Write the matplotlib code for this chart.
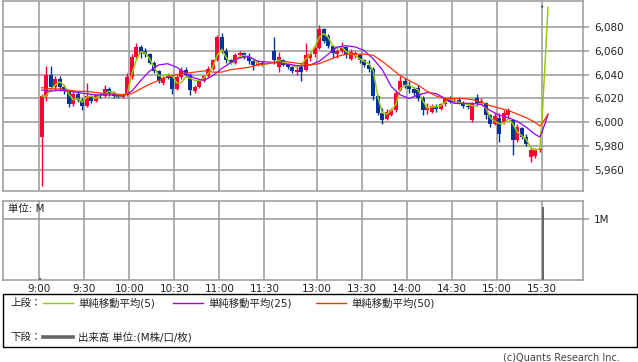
import matplotlib
matplotlib.use("Agg")
import matplotlib.pyplot as plt
from matplotlib.patches import Rectangle
from matplotlib.lines import Line2D

plt.rcParams['font.family'] = ['DejaVu Sans', 'Noto Sans CJK JP']

W, H, DPI = 638, 362, 100
###############################################################################
# Data: 3-minute bars (yen)
###############################################################################
am_open = [5988, 6022, 6040, 6030, 6036, 6030, 6026, 6015, 6024, 6019,
           6014, 6022, 6018, 6023, 6022, 6028, 6024, 6022, 6021, 6023,
           6038, 6055, 6063, 6060, 6057, 6050, 6043, 6033, 6039, 6038,
           6028, 6038, 6044, 6040, 6026, 6030, 6035, 6039, 6045, 6052,
           6071, 6060, 6052, 6050, 6056, 6058, 6055, 6051, 6048, 6050]
am_high = [6024, 6047, 6047, 6039, 6039, 6031, 6027, 6026, 6026, 6020,
           6033, 6023, 6024, 6025, 6031, 6030, 6026, 6024, 6025, 6041,
           6057, 6066, 6065, 6062, 6058, 6051, 6044, 6039, 6041, 6039,
           6040, 6046, 6046, 6041, 6031, 6036, 6040, 6047, 6053, 6073,
           6075, 6062, 6053, 6058, 6060, 6059, 6058, 6052, 6052, 6051]
am_low = [5947, 6018, 6027, 6027, 6026, 6024, 6013, 6014, 6017, 6010,
          6013, 6016, 6017, 6020, 6021, 6022, 6020, 6020, 6020, 6022,
          6036, 6053, 6054, 6055, 6049, 6041, 6033, 6031, 6036, 6024,
          6027, 6036, 6038, 6023, 6025, 6029, 6034, 6038, 6044, 6051,
          6058, 6050, 6049, 6049, 6054, 6053, 6049, 6044, 6047, 6047]
am_close = [6022, 6040, 6030, 6036, 6030, 6026, 6015, 6024, 6019, 6014,
            6022, 6018, 6023, 6022, 6028, 6024, 6022, 6021, 6023, 6038,
            6055, 6063, 6058, 6057, 6050, 6043, 6035, 6037, 6037, 6028,
            6038, 6044, 6040, 6027, 6030, 6035, 6039, 6045, 6052, 6071,
            6060, 6052, 6050, 6056, 6058, 6055, 6051, 6048, 6050, 6049]

pm_open = [6060, 6046, 6052, 6049, 6046, 6042, 6046, 6044, 6054, 6057,
           6062, 6078, 6072, 6064, 6057, 6060, 6063, 6053, 6056, 6056,
           6052, 6048, 6045, 6022, 6008, 6003, 6006, 6010, 6027, 6035,
           6031, 6028, 6029, 6020, 6010, 6009, 6014, 6011, 6015, 6020,
           6017, 6019, 6016, 6014, 6002, 6020, 6016, 6016, 6006, 5999,
           6004, 6000, 6006, 6002, 5985, 5995, 5988, 5971, 5972, 5977]
pm_high = [6071, 6059, 6053, 6050, 6047, 6046, 6048, 6066, 6059, 6064,
           6081, 6079, 6074, 6065, 6061, 6067, 6064, 6061, 6060, 6057,
           6053, 6052, 6046, 6023, 6012, 6011, 6012, 6027, 6039, 6037,
           6035, 6030, 6031, 6022, 6016, 6015, 6015, 6016, 6021, 6022,
           6020, 6020, 6018, 6016, 6017, 6024, 6020, 6017, 6007, 6008,
           6008, 6010, 6012, 6003, 5999, 5996, 5990, 5979, 5979, 5979]
pm_low = [6049, 6042, 6047, 6045, 6041, 6040, 6035, 6043, 6051, 6055,
          6061, 6066, 6062, 6054, 6054, 6058, 6054, 6052, 6054, 6050,
          6046, 6042, 6019, 6006, 5999, 6002, 6005, 6009, 6026, 6029,
          6025, 6022, 6018, 6006, 6007, 6008, 6009, 6010, 6014, 6016,
          6016, 6015, 6012, 6011, 6000, 6014, 6015, 6003, 5996, 5998,
          5984, 5999, 6003, 5973, 5984, 5986, 5980, 5967, 5970, 5975]
pm_close = [6052, 6055, 6048, 6046, 6043, 6044, 6042, 6056, 6057, 6062,
            6078, 6068, 6064, 6058, 6060, 6063, 6056, 6059, 6058, 6052,
            6048, 6045, 6022, 6008, 6002, 6009, 6010, 6025, 6035, 6031,
            6028, 6025, 6020, 6010, 6013, 6014, 6011, 6015, 6020, 6017,
            6019, 6016, 6014, 6013, 6015, 6016, 6018, 6006, 5999, 6005,
            5990, 6008, 6010, 5985, 5996, 5988, 5982, 5977, 5977, 5978]

# closing auction print at 15:30
close_bar = (6097, 6097, 6096, 6096)

# moving averages (read at bar centres)
ma5_am = [6022, 6022, 6028, 6031, 6034, 6031, 6024, 6019, 6020, 6017,
          6021, 6022, 6020, 6023, 6024, 6026, 6025, 6022, 6022, 6024,
          6040, 6052, 6059, 6058, 6053, 6046, 6039, 6039, 6040, 6039,
          6033, 6033, 6038, 6037, 6035, 6035, 6037, 6041, 6046, 6056,
          6061, 6054, 6049, 6052, 6055, 6056, 6055, 6053, 6049, 6048]
ma5_pm = [6050, 6052, 6050, 6049, 6048, 6046, 6048, 6053, 6057, 6063,
          6071, 6074, 6071, 6064, 6062, 6063, 6059, 6057, 6056, 6053,
          6051, 6049, 6043, 6022, 6008, 6007, 6010, 6015, 6028, 6031,
          6031, 6029, 6027, 6018, 6012, 6013, 6013, 6014, 6017, 6019,
          6018, 6017, 6016, 6015, 6014, 6014, 6016, 6012, 6004, 6001,
          5999, 5999, 6003, 5999, 5992, 5989, 5986, 5979, 5977, 5978]
ma5_tail = [6002, 6026, 6049, 6073, 6096]          # 15:30 .. 15:34

# every second bar centre
ma25_am = [6027, 6026, 6027, 6026, 6025, 6024, 6023, 6023, 6023, 6022,
           6026, 6035, 6043, 6048, 6049, 6046, 6041, 6037, 6035, 6039,
           6045, 6050, 6054, 6055, 6051]
ma25_pm = [6050, 6049, 6048, 6047, 6048, 6051, 6057, 6063, 6064, 6063,
           6060, 6053, 6044, 6030, 6023, 6020, 6023, 6025, 6024, 6020,
           6016, 6016, 6016, 6015, 6010, 6006, 6004, 6001, 5996, 5990]
ma25_tail = [5988, 5992, 5996, 5999, 6003, 6007]   # last bar, 15:30 .. 15:34

ma50_am = [6029, 6028, 6028, 6027, 6026, 6026, 6025, 6024, 6024, 6023,
           6024, 6028, 6032, 6035, 6038, 6040, 6041, 6042, 6043, 6042,
           6042, 6044, 6045, 6046, 6048]
ma50_pm = [6050, 6051, 6050, 6049, 6048, 6049, 6052, 6055, 6057, 6057,
           6057, 6056, 6051, 6045, 6039, 6035, 6031, 6026, 6022, 6020,
           6020, 6020, 6019, 6017, 6014, 6012, 6010, 6007, 6004, 6000]
ma50_tail = [5997, 5999, 6001, 6003, 6005, 6007]

vol_times = ["9:00", "15:30"]
vol_values = [0.03, 1.2]  # M

x_labels = ["9:00", "9:30", "10:00", "10:30", "11:00", "11:30",
            "13:00", "13:30", "14:00", "14:30", "15:00", "15:30"]
y_ticks = [5960, 5980, 6000, 6020, 6040, 6060, 6080]

###############################################################################
# Colors
###############################################################################
upColor = '#ff0033'
dnColor = '#003399'
gridColor = '#999999'
c5 = '#99cc00'
c25 = '#9900ff'
c50 = '#ff3300'
volColor = '#666666'


def tpos(s):
    # session time -> x position in minutes (lunch break compressed)
    h, m = [int(v) for v in s.split(':')]
    mins = h * 60 + m
    if mins <= 12 * 60:
        return mins - 540
    return 155 + mins - 750


am_t = [3 * i + 1.5 for i in range(len(am_open))]
pm_t = [155 + 3 * k + 1.5 for k in range(len(pm_open))]
bar_t = am_t + pm_t
opens = am_open + pm_open
highs = am_high + pm_high
lows = am_low + pm_low
closes = am_close + pm_close
tail_t = [tpos("15:%02d" % m) for m in range(30, 35)]

###############################################################################
# Figure
###############################################################################
fig = plt.figure(figsize=(W / DPI, H / DPI), dpi=DPI)
fig.patch.set_facecolor('white')


def px_axes(x0, y0, x1, y1):
    return fig.add_axes([x0 / W, 1 - y1 / H, (x1 - x0) / W, (y1 - y0) / H])


ax = px_axes(3, 0.5, 583, 190.5)
axv = px_axes(3, 201, 583, 280)

XL = (-24.3, 362.3)
for a in (ax, axv):
    a.set_xlim(*XL)
    a.set_xticks([tpos(s) for s in x_labels])
    a.grid(True, color=gridColor, lw=1.1)
    a.set_axisbelow(True)
    for sp in a.spines.values():
        sp.set_color(gridColor)
        sp.set_linewidth(1.1)
    a.yaxis.tick_right()
    a.tick_params(axis='y', length=4, color=gridColor, width=1.1,
                  labelsize=7.5, pad=4, labelcolor='#222222')
    a.tick_params(axis='x', length=0, labelsize=7.5, pad=3,
                  labelcolor='#222222')

ax.set_xticklabels([])
axv.set_xticklabels(x_labels)

# price panel
ax.set_ylim(5943.3, 6101.7)
ax.set_yticks(y_ticks)
ax.set_yticklabels(['{:,}'.format(v) for v in y_ticks])

all_t = bar_t + [tpos("15:30")]
all_o = opens + [close_bar[0]]
all_h = highs + [close_bar[1]]
all_l = lows + [close_bar[2]]
all_c = closes + [close_bar[3]]
cols = [upColor if c > o else dnColor for o, c in zip(all_o, all_c)]
ax.vlines(all_t, all_l, all_h, colors=cols, lw=1.0, zorder=3)
bodies = [max(abs(c - o), 0.9) for o, c in zip(all_o, all_c)]
widths = [2.6] * len(bar_t) + [1.2]
ax.bar(all_t, bodies, bottom=[min(o, c) for o, c in zip(all_o, all_c)],
       width=widths, color=cols, lw=0, zorder=3)

ax.plot(bar_t + tail_t, ma5_am + ma5_pm + ma5_tail, color=c5, lw=1.1, zorder=4)
even_t = am_t[::2] + pm_t[::2] + [pm_t[-1]] + tail_t
ax.plot(even_t, ma25_am + ma25_pm + ma25_tail, color=c25, lw=0.9, zorder=4)
ax.plot(even_t, ma50_am + ma50_pm + ma50_tail, color=c50, lw=0.9, zorder=4)

# volume panel
axv.set_ylim(0, 1.295)
axv.set_yticks([1])
axv.set_yticklabels(['1M'])
axv.bar([tpos(s) + 0.5 for s in vol_times], vol_values, width=1.3,
        color=volColor, lw=0, zorder=3)
axv.text(0.008, 0.96, '単位: M', transform=axv.transAxes, ha='left',
         va='top', fontsize=7.5, color='#222222')

###############################################################################
# Legend box
###############################################################################
fig.add_artist(Rectangle((3 / W, 1 - 347 / H), 634 / W, 53 / H,
                         transform=fig.transFigure, fill=False,
                         edgecolor='black', lw=1.0))


def fx(x):
    return x / W


def fy(y):
    return 1 - y / H


items = [(c5, '単純移動平均(5)', 43), (c25, '単純移動平均(25)', 173),
         (c50, '単純移動平均(50)', 316)]
fig.text(fx(10), fy(303), '上段：', fontsize=7.5, va='center', color='#222222')
for col, lab, x0 in items:
    fig.add_artist(Line2D([fx(x0), fx(x0 + 30)], [fy(303), fy(303)],
                          color=col, lw=1.0, transform=fig.transFigure))
    fig.text(fx(x0 + 35), fy(303), lab, fontsize=7.5, va='center',
             color='#222222')
fig.text(fx(10), fy(337), '下段：', fontsize=7.5, va='center', color='#222222')
fig.add_artist(Line2D([fx(43), fx(73)], [fy(337), fy(337)], color=volColor,
                      lw=2.6, transform=fig.transFigure))
fig.text(fx(78), fy(337), '出来高 単位:(M株/口/枚)', fontsize=7.5,
         va='center', color='#222222')
fig.text(fx(620), fy(357), '(c)Quants Research Inc.', fontsize=7,
         ha='right', va='center', color='#444444')

fig.savefig('out.png', dpi=DPI, facecolor='white')
plt.close('all')
